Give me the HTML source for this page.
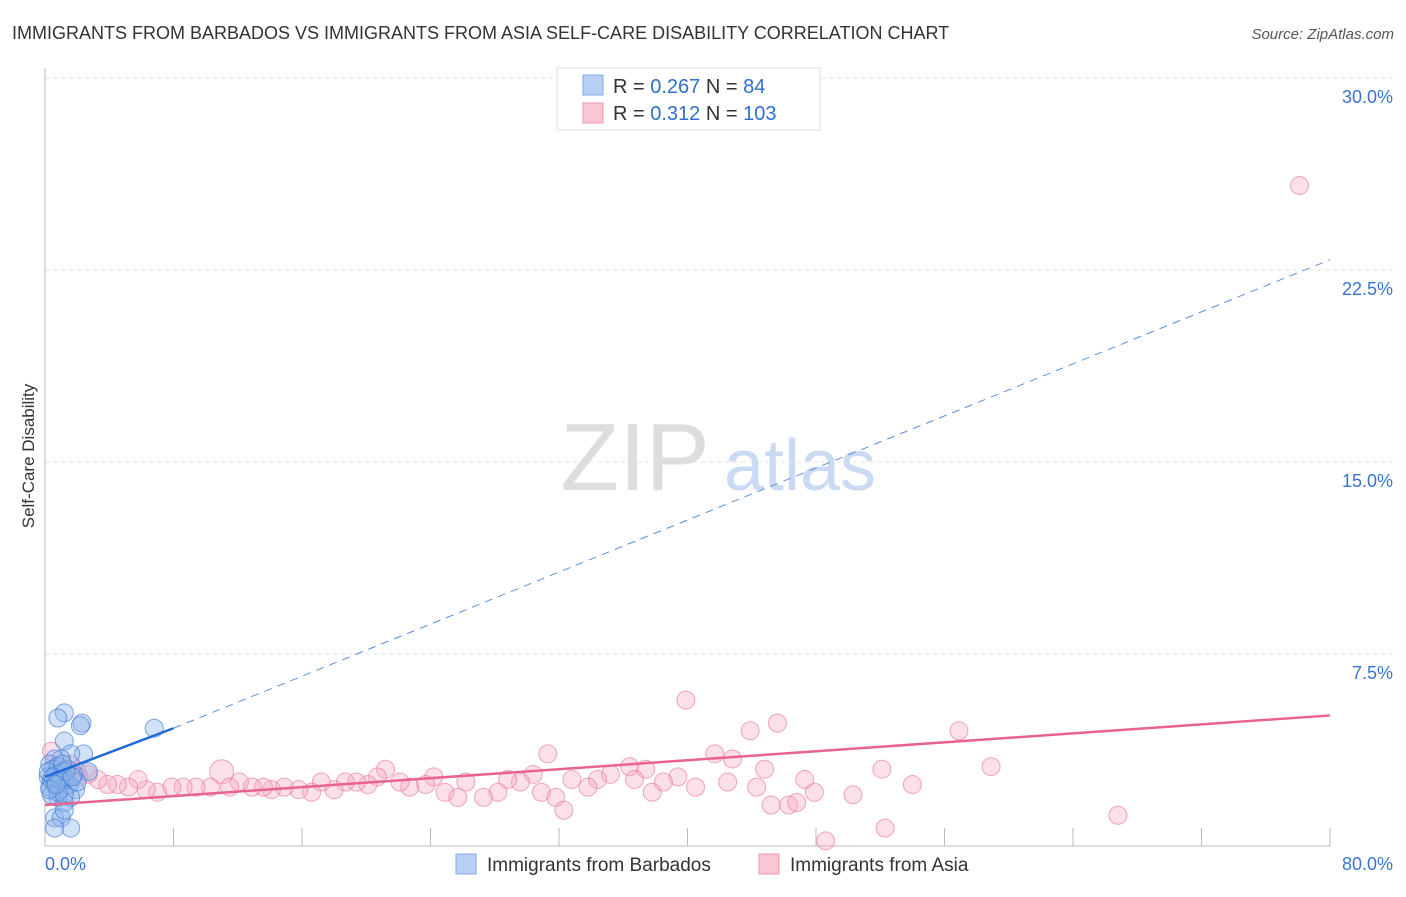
<!DOCTYPE html>
<html><head><meta charset="utf-8"><style>
body{margin:0;background:#fff;font-family:"Liberation Sans",sans-serif;}
svg text{font-family:"Liberation Sans",sans-serif;}
</style></head><body>
<svg id="chart" width="1406" height="892" viewBox="0 0 1406 892">
<text x="12" y="39" font-size="18" fill="#333">IMMIGRANTS FROM BARBADOS VS IMMIGRANTS FROM ASIA SELF-CARE DISABILITY CORRELATION CHART</text>
<text x="1394" y="39" font-size="15" fill="#555" text-anchor="end" font-style="italic">Source: ZipAtlas.com</text>
<text x="34" y="456" font-size="17" fill="#333" text-anchor="middle" transform="rotate(-90 34 456)">Self-Care Disability</text>
<g>
<text x="635" y="490" font-size="96" fill="#ddd" text-anchor="middle" font-family="Liberation Serif,serif">ZIP</text>
<text x="800" y="490" font-size="72" fill="#c9daf2" text-anchor="middle">atlas</text>
</g>
<g id="grid"></g><g id="axes"></g>
<g id="pink"></g><g id="blue"></g><g id="trends"></g>
<g>
<rect x="557" y="68" width="263" height="62" fill="#fff" stroke="#ddd"/>
<rect x="583" y="75" width="20" height="20" fill="#b7d0f4" stroke="#7fa9e6"/>
<rect x="583" y="103" width="20" height="20" fill="#f9c6d4" stroke="#ee9ab2"/>
<text x="613" y="93" font-size="20" fill="#333">R = <tspan fill="#2f6fd0">0.267</tspan>   N = <tspan fill="#2f6fd0">  84</tspan></text>
<text x="613" y="120" font-size="20" fill="#333">R = <tspan fill="#2f6fd0"> 0.312</tspan>   N = <tspan fill="#2f6fd0">103</tspan></text>
</g>
<g>
<rect x="456" y="854" width="20" height="20" fill="#b7d0f4" stroke="#7fa9e6"/>
<text x="487" y="871" font-size="19" fill="#333">Immigrants from Barbados</text>
<rect x="759" y="854" width="20" height="20" fill="#f9c6d4" stroke="#ee9ab2"/>
<text x="790" y="871" font-size="19" fill="#333">Immigrants from Asia</text>
</g>
</svg>
<script>
const xTicks=[0,80];
const yTicks=[7.5,15,22.5,30];
const blueX=[1.2,0.8,2.3,2.2,6.8,1.2,2.4,1.6,1.0,0.6,2.7,1.9,1.6,1.2,0.8,0.6,1.0,1.2,1.6,0.6,0.3,0.5,0.8,1.1,1.4,1.8,0.2,0.4,0.7,1.0,1.3,0.3,0.6,0.9,1.5,2.0,0.4,0.8,1.2,0.2,0.5,0.9,1.3,1.7,0.3,0.7,1.1];
const blueY=[5.2,5.0,4.8,4.7,4.6,4.1,3.6,3.6,3.4,3.4,2.9,2.2,1.9,1.7,1.9,1.1,1.1,1.4,0.7,0.7,3.2,3.0,3.1,2.9,3.0,2.8,2.7,2.6,2.8,2.5,2.6,2.3,2.4,2.2,2.4,2.5,2.0,2.1,2.0,2.9,2.7,2.6,2.9,2.7,2.2,2.4,3.2];
const pinkX=[78.1,39.9,43.9,45.6,56.9,31.3,41.7,42.8,58.9,52.1,44.8,36.4,37.4,21.2,11,66.8,52.3,48.6,54,50.3,47.9,47.3,45.2,46.3,46.8,44.3,42.5,40.5,39.4,37.8,38.5,36.7,35.2,34.4,33.8,32.8,31.8,32.3,30.9,30.4,29.6,28.8,28.2,27.3,26.2,25.7,24.9,24.2,23.7,22.7,22.1,20.7,20.1,19.4,18.7,18,17.2,16.6,15.8,14.9,14.1,13.6,12.9,12.1,11.5,10.3,9.4,8.6,7.9,7,6.3,5.8,5.2,4.5,3.9,3.3,2.7,2.1,0.9,0.4,1.6,1.2,2.0];
const pinkY=[25.8,5.7,4.5,4.8,4.5,3.6,3.6,3.4,3.1,3.0,3.0,3.1,3.0,3.0,2.9,1.2,0.7,0.2,2.4,2.0,2.1,2.6,1.6,1.6,1.7,2.3,2.5,2.3,2.7,2.1,2.5,2.6,2.8,2.6,2.3,2.6,1.9,1.4,2.1,2.8,2.5,2.6,2.1,1.9,2.5,1.9,2.1,2.7,2.4,2.3,2.5,2.7,2.4,2.5,2.5,2.2,2.5,2.1,2.2,2.3,2.2,2.3,2.3,2.5,2.3,2.3,2.3,2.3,2.3,2.1,2.2,2.6,2.3,2.4,2.4,2.6,2.8,2.7,3.0,3.7,3.2,2.6,2.9];
const pinkR=[9,9,9,9,9,9,9,9,9,9,9,9,9,9,12];
const blueTrend=[0,2.7,8,4.6];
const blueDash=[80,22.9];
const pinkTrend=[0,1.6,80,5.1];
const NS='http://www.w3.org/2000/svg';
const sx=v=>45+v*(1330-45)/80;
const sy=v=>846-v*(846-78)/30;
function mk(tag,attrs,parent){const e=document.createElementNS(NS,tag);for(const k in attrs)e.setAttribute(k,attrs[k]);document.getElementById(parent).appendChild(e);return e;}
yTicks.forEach(t=>{
 const g=mk('line',{x1:45,x2:1394,y1:sy(t),y2:sy(t),stroke:'#e2e2e2','stroke-dasharray':'4 4'},'grid');
 
 
 const l=mk('text',{x:1393,y:sy(t)+25,'font-size':18,fill:'#3a74d0','text-anchor':'end'},'axes');
 l.textContent=t.toFixed(1)+'%';
 
 
});
const ax=mk('line',{x1:45,x2:1330,y1:846,y2:846,stroke:'#bbb'},'axes');


const ay=mk('line',{x1:45,x2:45,y1:68,y2:846,stroke:'#bbb'},'axes');


for(let i=1;i<=10;i++){const t=mk('line',{x1:sx(i*8),x2:sx(i*8),y1:828,y2:846,stroke:'#bbb'},'axes');
 
 }
xTicks.forEach((t,i)=>{const l=mk('text',{x:i?1393:45,y:870,'font-size':18,fill:'#3a74d0','text-anchor':i?'end':'start'},'axes');
 l.textContent=t.toFixed(1)+'%';
 
 });
pinkX.forEach((x,i)=>{const c=mk('circle',{cx:sx(x),cy:sy(pinkY[i]),r:pinkR[i]||9,fill:'rgba(246,166,190,0.35)',stroke:'rgba(232,110,150,0.6)','stroke-width':1},'pink');
 
 });
blueX.forEach((x,i)=>{const c=mk('circle',{cx:sx(x),cy:sy(blueY[i]),r:9,fill:'rgba(140,180,235,0.4)',stroke:'rgba(60,120,210,0.65)','stroke-width':1},'blue');
 
 });
const bd=mk('line',{x1:sx(blueTrend[2]),y1:sy(blueTrend[3]),x2:sx(blueDash[0]),y2:sy(blueDash[1]),stroke:'#5b8fdc','stroke-width':1,'stroke-dasharray':'8 6'},'trends');


const bt=mk('line',{x1:sx(blueTrend[0]),y1:sy(blueTrend[1]),x2:sx(blueTrend[2]),y2:sy(blueTrend[3]),stroke:'#1f6ad8','stroke-width':2.5},'trends');


const pt=mk('line',{x1:sx(pinkTrend[0]),y1:sy(pinkTrend[1]),x2:sx(pinkTrend[2]),y2:sy(pinkTrend[3]),stroke:'#e8648e','stroke-width':2.5},'trends');


</script>
</body></html>
